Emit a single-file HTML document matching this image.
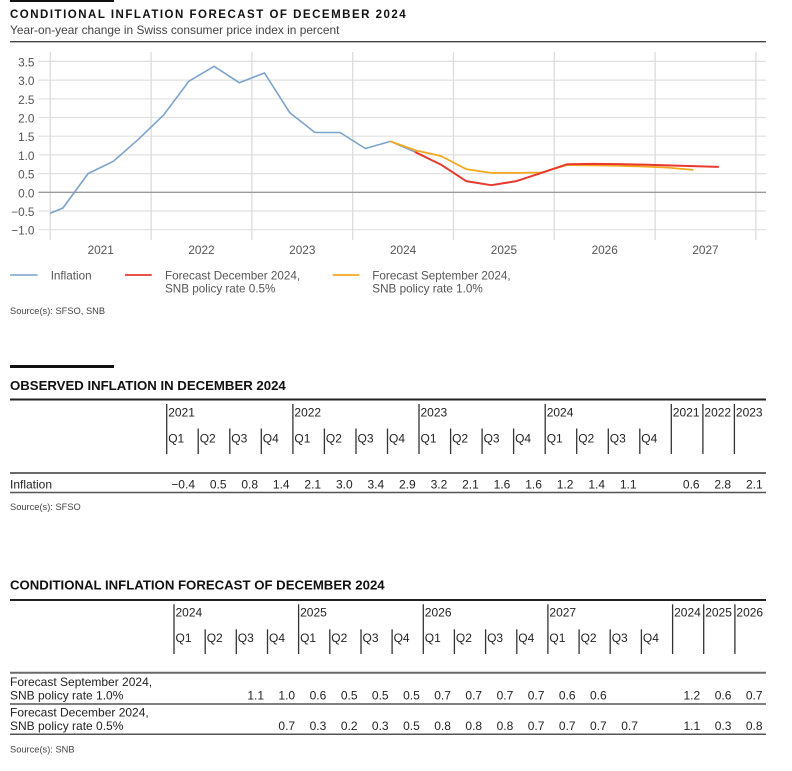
<!DOCTYPE html>
<html>
<head>
<meta charset="utf-8">
<style>
  html,body{margin:0;padding:0;background:#fff;}
  svg{display:block;}
  text{font-family:"Liberation Sans", Arial, sans-serif;}
  .ax{font-size:11.8px;fill:#555;}
  .lg{font-size:11.7px;fill:#555;}
  .src{font-size:9.3px;fill:#444;}
  .tt{font-size:13.2px;font-weight:bold;fill:#111;}
  .th{font-size:12px;fill:#222;}
  .td{font-size:12px;fill:#222;}
  .num{font-size:12px;fill:#222;text-anchor:end;}
</style>
</head>
<body>
<svg width="792" height="771" viewBox="0 0 792 771" xmlns="http://www.w3.org/2000/svg">
  <defs>
    <clipPath id="plot"><rect x="50" y="40" width="716" height="210"/></clipPath>
  </defs>

  <!-- ================= CHART ================= -->
  <rect x="10" y="0" width="104" height="2" fill="#111"/>
  <text x="10" y="18" style="font-size:11.5px;font-weight:bold;fill:#111;letter-spacing:1.5px;">CONDITIONAL INFLATION FORECAST OF DECEMBER 2024</text>
  <text x="10" y="34" style="font-size:11.9px;fill:#444;">Year-on-year change in Swiss consumer price index in percent</text>
  <line x1="10" y1="41.7" x2="766" y2="41.7" stroke="#444" stroke-width="1.4"/>

  <!-- horizontal gridlines -->
  <g stroke="#e0e0e0" stroke-width="1.2">
    <line x1="38.5" y1="61.4" x2="766" y2="61.4"/>
    <line x1="38.5" y1="80.1" x2="766" y2="80.1"/>
    <line x1="38.5" y1="98.8" x2="766" y2="98.8"/>
    <line x1="38.5" y1="117.5" x2="766" y2="117.5"/>
    <line x1="38.5" y1="136.2" x2="766" y2="136.2"/>
    <line x1="38.5" y1="154.9" x2="766" y2="154.9"/>
    <line x1="38.5" y1="173.6" x2="766" y2="173.6"/>
    <line x1="38.5" y1="211.0" x2="766" y2="211.0"/>
    <line x1="38.5" y1="229.7" x2="766" y2="229.7"/>
  </g>
  <!-- vertical gridlines -->
  <g stroke="#dcdcdc" stroke-width="1.3">
    <line x1="50.3" y1="52" x2="50.3" y2="240"/>
    <line x1="151.1" y1="52" x2="151.1" y2="240"/>
    <line x1="251.9" y1="52" x2="251.9" y2="240"/>
    <line x1="352.7" y1="52" x2="352.7" y2="240"/>
    <line x1="453.5" y1="52" x2="453.5" y2="240"/>
    <line x1="554.3" y1="52" x2="554.3" y2="240"/>
    <line x1="655.1" y1="52" x2="655.1" y2="240"/>
    <line x1="755.9" y1="52" x2="755.9" y2="240"/>
  </g>
  <line x1="38.5" y1="192.3" x2="766" y2="192.3" stroke="#9a9a9a" stroke-width="1.3"/>

  <!-- y labels -->
  <g class="ax" text-anchor="end">
    <text x="34.5" y="66.4">3.5</text>
    <text x="34.5" y="85.1">3.0</text>
    <text x="34.5" y="103.8">2.5</text>
    <text x="34.5" y="122.5">2.0</text>
    <text x="34.5" y="141.2">1.5</text>
    <text x="34.5" y="159.9">1.0</text>
    <text x="34.5" y="178.6">0.5</text>
    <text x="34.5" y="197.3">0.0</text>
    <text x="34.5" y="216.0">−0.5</text>
    <text x="34.5" y="234.7">−1.0</text>
  </g>
  <!-- x labels -->
  <g class="ax" text-anchor="middle">
    <text x="100.7" y="254">2021</text>
    <text x="201.5" y="254">2022</text>
    <text x="302.3" y="254">2023</text>
    <text x="403.1" y="254">2024</text>
    <text x="503.9" y="254">2025</text>
    <text x="604.7" y="254">2026</text>
    <text x="705.5" y="254">2027</text>
  </g>

  <!-- series -->
  <g clip-path="url(#plot)" fill="none" stroke-linejoin="round" stroke-linecap="round">
    <polyline stroke="#7ba3cc" stroke-width="1.6"
      points="37.7,218.5 62.9,208.0 88.1,173.6 113.3,161.3 138.5,139.2 163.7,114.9 188.9,81.2 214.1,66.3 239.3,82.7 264.5,73.0 289.7,112.6 314.9,132.5 340.1,132.5 365.3,148.5 390.5,141.4 415.7,152.3"/>
    <polyline stroke="#f5a81c" stroke-width="1.8"
      points="390.5,141.4 415.7,150.4 440.9,156.0 466.1,169.1 491.3,172.9 516.5,172.9 541.7,172.5 566.9,165.0 592.1,165.4 617.3,165.7 642.5,166.5 667.7,167.6 692.9,169.9"/>
    <polyline stroke="#e8392f" stroke-width="2"
      points="415.7,152.3 440.9,164.6 466.1,181.1 491.3,185.2 516.5,181.1 541.7,172.8 566.9,164.3 592.1,163.9 617.3,164.1 642.5,164.6 667.7,165.4 692.9,166.1 718.1,166.9"/>
  </g>

  <!-- legend -->
  <line x1="10" y1="275" x2="37.7" y2="275" stroke="#7ba3cc" stroke-width="1.6"/>
  <text class="lg" x="50.7" y="279.3">Inflation</text>
  <line x1="125" y1="275" x2="151.7" y2="275" stroke="#e8392f" stroke-width="1.8"/>
  <text class="lg" x="165" y="279.3">Forecast December 2024,</text>
  <text class="lg" x="165" y="292.6">SNB policy rate 0.5%</text>
  <line x1="332.7" y1="275" x2="359.3" y2="275" stroke="#f5a81c" stroke-width="1.8"/>
  <text class="lg" x="372.3" y="279.3">Forecast September 2024,</text>
  <text class="lg" x="372.3" y="292.6">SNB policy rate 1.0%</text>

  <text class="src" x="10" y="314">Source(s): SFSO, SNB</text>

  <!-- ================= TABLE 1 ================= -->
  <rect x="10" y="365" width="104" height="3" fill="#111"/>
  <text class="tt" x="10" y="390">OBSERVED INFLATION IN DECEMBER 2024</text>
  <line x1="10" y1="399.5" x2="766" y2="399.5" stroke="#222" stroke-width="2"/>

  <g stroke="#333" stroke-width="1.3">
    <line x1="166.7" y1="404" x2="166.7" y2="454"/>
    <line x1="292.9" y1="404" x2="292.9" y2="454"/>
    <line x1="419.0" y1="404" x2="419.0" y2="454"/>
    <line x1="545.2" y1="404" x2="545.2" y2="454"/>
    <line x1="671.3" y1="404" x2="671.3" y2="454"/>
    <line x1="702.9" y1="404" x2="702.9" y2="454"/>
    <line x1="734.4" y1="404" x2="734.4" y2="454"/>
    <line x1="198.2" y1="428.5" x2="198.2" y2="454"/>
    <line x1="229.8" y1="428.5" x2="229.8" y2="454"/>
    <line x1="261.3" y1="428.5" x2="261.3" y2="454"/>
    <line x1="324.4" y1="428.5" x2="324.4" y2="454"/>
    <line x1="356.0" y1="428.5" x2="356.0" y2="454"/>
    <line x1="387.5" y1="428.5" x2="387.5" y2="454"/>
    <line x1="450.6" y1="428.5" x2="450.6" y2="454"/>
    <line x1="482.1" y1="428.5" x2="482.1" y2="454"/>
    <line x1="513.6" y1="428.5" x2="513.6" y2="454"/>
    <line x1="576.7" y1="428.5" x2="576.7" y2="454"/>
    <line x1="608.3" y1="428.5" x2="608.3" y2="454"/>
    <line x1="639.8" y1="428.5" x2="639.8" y2="454"/>
  </g>
  <g class="th">
    <text x="168.2" y="416.7">2021</text>
    <text x="294.4" y="416.7">2022</text>
    <text x="420.5" y="416.7">2023</text>
    <text x="546.7" y="416.7">2024</text>
    <text x="672.8" y="416.7">2021</text>
    <text x="704.4" y="416.7">2022</text>
    <text x="735.9" y="416.7">2023</text>
    <text x="168.2" y="442.3">Q1</text>
    <text x="199.7" y="442.3">Q2</text>
    <text x="231.3" y="442.3">Q3</text>
    <text x="262.8" y="442.3">Q4</text>
    <text x="294.4" y="442.3">Q1</text>
    <text x="325.9" y="442.3">Q2</text>
    <text x="357.5" y="442.3">Q3</text>
    <text x="389.0" y="442.3">Q4</text>
    <text x="420.5" y="442.3">Q1</text>
    <text x="452.1" y="442.3">Q2</text>
    <text x="483.6" y="442.3">Q3</text>
    <text x="515.1" y="442.3">Q4</text>
    <text x="546.7" y="442.3">Q1</text>
    <text x="578.2" y="442.3">Q2</text>
    <text x="609.8" y="442.3">Q3</text>
    <text x="641.3" y="442.3">Q4</text>
  </g>
  <line x1="10" y1="473" x2="766" y2="473" stroke="#6a6a6a" stroke-width="2"/>
  <text class="td" x="10" y="488.3">Inflation</text>
  <g class="num">
    <text x="195.0" y="488.3">−0.4</text>
    <text x="226.5" y="488.3">0.5</text>
    <text x="258.0" y="488.3">0.8</text>
    <text x="289.6" y="488.3">1.4</text>
    <text x="321.1" y="488.3">2.1</text>
    <text x="352.7" y="488.3">3.0</text>
    <text x="384.2" y="488.3">3.4</text>
    <text x="415.7" y="488.3">2.9</text>
    <text x="447.3" y="488.3">3.2</text>
    <text x="478.8" y="488.3">2.1</text>
    <text x="510.3" y="488.3">1.6</text>
    <text x="541.9" y="488.3">1.6</text>
    <text x="573.4" y="488.3">1.2</text>
    <text x="605.0" y="488.3">1.4</text>
    <text x="636.5" y="488.3">1.1</text>
    <text x="699.6" y="488.3">0.6</text>
    <text x="731.1" y="488.3">2.8</text>
    <text x="762.7" y="488.3">2.1</text>
  </g>
  <line x1="10" y1="492.5" x2="766" y2="492.5" stroke="#555" stroke-width="1.5"/>
  <text class="src" x="10" y="510">Source(s): SFSO</text>

  <!-- ================= TABLE 2 ================= -->
  <text class="tt" x="10" y="589.3">CONDITIONAL INFLATION FORECAST OF DECEMBER 2024</text>
  <line x1="10" y1="600" x2="766" y2="600" stroke="#222" stroke-width="2"/>

  <g stroke="#333" stroke-width="1.3">
    <line x1="174.0" y1="604.3" x2="174.0" y2="654"/>
    <line x1="298.6" y1="604.3" x2="298.6" y2="654"/>
    <line x1="423.3" y1="604.3" x2="423.3" y2="654"/>
    <line x1="547.9" y1="604.3" x2="547.9" y2="654"/>
    <line x1="672.6" y1="604.3" x2="672.6" y2="654"/>
    <line x1="703.7" y1="604.3" x2="703.7" y2="654"/>
    <line x1="734.9" y1="604.3" x2="734.9" y2="654"/>
    <line x1="205.2" y1="629.3" x2="205.2" y2="654"/>
    <line x1="236.3" y1="629.3" x2="236.3" y2="654"/>
    <line x1="267.5" y1="629.3" x2="267.5" y2="654"/>
    <line x1="329.8" y1="629.3" x2="329.8" y2="654"/>
    <line x1="361.0" y1="629.3" x2="361.0" y2="654"/>
    <line x1="392.1" y1="629.3" x2="392.1" y2="654"/>
    <line x1="454.4" y1="629.3" x2="454.4" y2="654"/>
    <line x1="485.6" y1="629.3" x2="485.6" y2="654"/>
    <line x1="516.8" y1="629.3" x2="516.8" y2="654"/>
    <line x1="579.1" y1="629.3" x2="579.1" y2="654"/>
    <line x1="610.2" y1="629.3" x2="610.2" y2="654"/>
    <line x1="641.4" y1="629.3" x2="641.4" y2="654"/>
  </g>
  <g class="th">
    <text x="175.5" y="616.6">2024</text>
    <text x="300.1" y="616.6">2025</text>
    <text x="424.8" y="616.6">2026</text>
    <text x="549.4" y="616.6">2027</text>
    <text x="674.1" y="616.6">2024</text>
    <text x="705.2" y="616.6">2025</text>
    <text x="736.4" y="616.6">2026</text>
    <text x="175.5" y="642">Q1</text>
    <text x="206.7" y="642">Q2</text>
    <text x="237.8" y="642">Q3</text>
    <text x="269.0" y="642">Q4</text>
    <text x="300.1" y="642">Q1</text>
    <text x="331.3" y="642">Q2</text>
    <text x="362.5" y="642">Q3</text>
    <text x="393.6" y="642">Q4</text>
    <text x="424.8" y="642">Q1</text>
    <text x="455.9" y="642">Q2</text>
    <text x="487.1" y="642">Q3</text>
    <text x="518.3" y="642">Q4</text>
    <text x="549.4" y="642">Q1</text>
    <text x="580.6" y="642">Q2</text>
    <text x="611.7" y="642">Q3</text>
    <text x="642.9" y="642">Q4</text>
  </g>
  <line x1="10" y1="672.7" x2="766" y2="672.7" stroke="#6a6a6a" stroke-width="2"/>

  <text class="td" x="10" y="686">Forecast September 2024,</text>
  <text class="td" x="10" y="699.3">SNB policy rate 1.0%</text>
  <g class="num">
    <text x="264.0" y="699.3">1.1</text>
    <text x="295.1" y="699.3">1.0</text>
    <text x="326.3" y="699.3">0.6</text>
    <text x="357.5" y="699.3">0.5</text>
    <text x="388.6" y="699.3">0.5</text>
    <text x="419.8" y="699.3">0.5</text>
    <text x="450.9" y="699.3">0.7</text>
    <text x="482.1" y="699.3">0.7</text>
    <text x="513.3" y="699.3">0.7</text>
    <text x="544.4" y="699.3">0.7</text>
    <text x="575.6" y="699.3">0.6</text>
    <text x="606.7" y="699.3">0.6</text>
    <text x="700.2" y="699.3">1.2</text>
    <text x="731.4" y="699.3">0.6</text>
    <text x="762.5" y="699.3">0.7</text>
  </g>
  <line x1="10" y1="704" x2="766" y2="704" stroke="#555" stroke-width="1.5"/>

  <text class="td" x="10" y="716.6">Forecast December 2024,</text>
  <text class="td" x="10" y="730">SNB policy rate 0.5%</text>
  <g class="num">
    <text x="295.1" y="730">0.7</text>
    <text x="326.3" y="730">0.3</text>
    <text x="357.5" y="730">0.2</text>
    <text x="388.6" y="730">0.3</text>
    <text x="419.8" y="730">0.5</text>
    <text x="450.9" y="730">0.8</text>
    <text x="482.1" y="730">0.8</text>
    <text x="513.3" y="730">0.8</text>
    <text x="544.4" y="730">0.7</text>
    <text x="575.6" y="730">0.7</text>
    <text x="606.7" y="730">0.7</text>
    <text x="637.9" y="730">0.7</text>
    <text x="700.2" y="730">1.1</text>
    <text x="731.4" y="730">0.3</text>
    <text x="762.5" y="730">0.8</text>
  </g>
  <line x1="10" y1="734.3" x2="766" y2="734.3" stroke="#555" stroke-width="1.5"/>
  <text class="src" x="10" y="752.3">Source(s): SNB</text>
</svg>
</body>
</html>
